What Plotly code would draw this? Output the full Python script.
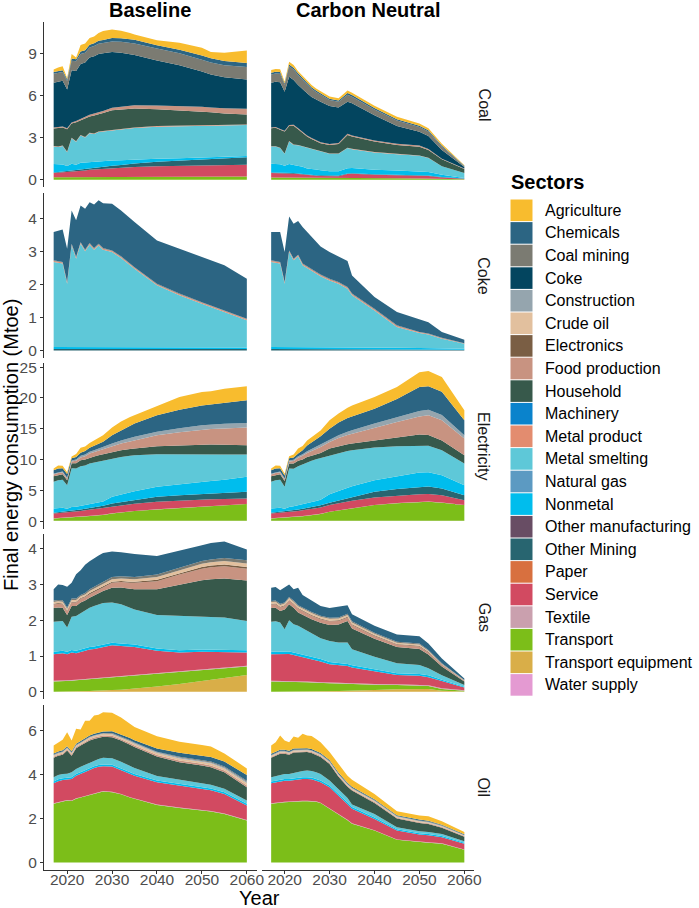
import plotly.graph_objects as go
from plotly.subplots import make_subplots

# years (denser where the curves are jagged)
YEARS = [2017, 2018, 2019, 2020, 2021, 2022, 2023, 2024, 2025, 2026, 2027,
         2028, 2030, 2032, 2034, 2035, 2040, 2045, 2050, 2052, 2055, 2060]

# legend order = stacking order, first one on top
SECTORS = ["Agriculture", "Chemicals", "Coal mining", "Coke", "Construction",
           "Crude oil", "Electronics", "Food production", "Household",
           "Machinery", "Metal product", "Metal smelting", "Natural gas",
           "Nonmetal", "Other manufacturing", "Other Mining", "Paper",
           "Service", "Textile", "Transport", "Transport equipment",
           "Water supply"]

COLORS = {
    "Agriculture": "#F8BC2E", "Chemicals": "#2C6583", "Coal mining": "#7B7B72",
    "Coke": "#03455F", "Construction": "#95A5AE", "Crude oil": "#E2C09E",
    "Electronics": "#7A5E44", "Food production": "#C89381",
    "Household": "#37594B", "Machinery": "#0A83CC", "Metal product": "#E38C6F",
    "Metal smelting": "#5EC8D8", "Natural gas": "#5C9AC2", "Nonmetal": "#00BDED",
    "Other manufacturing": "#684D64", "Other Mining": "#286570",
    "Paper": "#D8703F", "Service": "#D24A61", "Textile": "#CAA0AE",
    "Transport": "#7CBE19", "Transport equipment": "#D9AE48",
    "Water supply": "#E49AD2",
}

FUELS = ["Coal", "Coke", "Electricity", "Gas", "Oil"]
SCENARIOS = ["Baseline", "Carbon Neutral"]
X_TICKS = [2020, 2030, 2040, 2050, 2060]
Y_TICKS = {"Coal": [0, 3, 6, 9], "Coke": [0, 1, 2, 3, 4],
           "Electricity": [0, 5, 10, 15, 20, 25], "Gas": [0, 1, 2, 3, 4],
           "Oil": [0, 2, 4, 6]}

# Mtoe by sector
coal_baseline = {
    "Transport": [0.18, 0.18, 0.18, 0.18, 0.19, 0.19, 0.19, 0.19, 0.20, 0.20, 0.20, 0.20, 0.20, 0.20, 0.21, 0.21, 0.21, 0.21, 0.22, 0.22, 0.22, 0.22],
    "Service": [0.29, 0.31, 0.33, 0.35, 0.38, 0.41, 0.44, 0.47, 0.50, 0.52, 0.55, 0.58, 0.63, 0.65, 0.68, 0.69, 0.74, 0.76, 0.78, 0.79, 0.80, 0.84],
    "Other Mining": [0.05, 0.05, 0.06, 0.07, 0.08, 0.09, 0.10, 0.11, 0.12, 0.13, 0.14, 0.15, 0.17, 0.20, 0.23, 0.25, 0.32, 0.38, 0.45, 0.47, 0.50, 0.54],
    "Nonmetal": [0.60, 0.57, 0.52, 0.38, 0.48, 0.38, 0.48, 0.45, 0.43, 0.42, 0.41, 0.40, 0.37, 0.34, 0.31, 0.30, 0.23, 0.18, 0.14, 0.12, 0.10, 0.08],
    "Metal smelting": [1.24, 1.22, 1.31, 0.97, 1.82, 1.63, 1.94, 1.78, 2.05, 1.98, 2.10, 2.09, 2.13, 2.19, 2.22, 2.23, 2.28, 2.27, 2.23, 2.23, 2.23, 2.22],
    "Metal product": [0.04, 0.04, 0.04, 0.04, 0.04, 0.04, 0.04, 0.04, 0.04, 0.04, 0.04, 0.04, 0.04, 0.04, 0.04, 0.04, 0.04, 0.04, 0.04, 0.04, 0.04, 0.04],
    "Household": [1.25, 1.33, 1.28, 1.61, 1.01, 1.36, 1.06, 1.31, 1.16, 1.29, 1.21, 1.29, 1.41, 1.40, 1.37, 1.36, 1.20, 1.11, 1.01, 0.93, 0.83, 0.71],
    "Food production": [0.06, 0.06, 0.07, 0.07, 0.08, 0.09, 0.10, 0.11, 0.12, 0.13, 0.14, 0.15, 0.17, 0.19, 0.21, 0.22, 0.26, 0.30, 0.33, 0.35, 0.37, 0.40],
    "Coke": [3.19, 3.21, 3.26, 2.76, 3.72, 3.56, 3.90, 3.89, 4.08, 4.09, 4.16, 4.10, 3.98, 3.84, 3.68, 3.58, 3.22, 2.90, 2.50, 2.35, 2.21, 2.09],
    "Coal mining": [0.65, 0.62, 0.62, 0.60, 0.68, 0.68, 0.70, 0.70, 0.72, 0.72, 0.73, 0.74, 0.75, 0.78, 0.80, 0.82, 0.84, 0.85, 0.85, 0.85, 0.86, 0.88],
    "Chemicals": [0.12, 0.12, 0.12, 0.12, 0.15, 0.15, 0.18, 0.18, 0.20, 0.20, 0.22, 0.22, 0.25, 0.25, 0.26, 0.27, 0.23, 0.25, 0.30, 0.30, 0.30, 0.30],
    "Agriculture": [0.18, 0.29, 0.29, 0.10, 0.32, 0.12, 0.47, 0.47, 0.48, 0.48, 0.55, 0.64, 0.60, 0.54, 0.44, 0.38, 0.36, 0.50, 0.55, 0.45, 0.59, 0.88],
}

coal_neutral = {
    "Transport": [0.15, 0.15, 0.15, 0.14, 0.14, 0.14, 0.13, 0.13, 0.13, 0.12, 0.12, 0.12, 0.11, 0.11, 0.11, 0.11, 0.10, 0.10, 0.09, 0.08, 0.07, 0.03],
    "Service": [0.32, 0.32, 0.31, 0.30, 0.31, 0.29, 0.27, 0.23, 0.20, 0.18, 0.16, 0.15, 0.13, 0.14, 0.29, 0.31, 0.25, 0.22, 0.19, 0.18, 0.09, 0.04],
    "Other Mining": [0.04, 0.04, 0.04, 0.04, 0.04, 0.04, 0.04, 0.04, 0.04, 0.04, 0.04, 0.04, 0.04, 0.04, 0.04, 0.04, 0.04, 0.04, 0.04, 0.04, 0.03, 0.01],
    "Nonmetal": [0.62, 0.61, 0.60, 0.52, 0.63, 0.58, 0.56, 0.52, 0.43, 0.44, 0.40, 0.37, 0.32, 0.31, 0.38, 0.37, 0.31, 0.29, 0.28, 0.25, 0.16, 0.04],
    "Metal smelting": [1.23, 1.24, 1.15, 0.84, 1.60, 1.43, 1.45, 1.44, 1.45, 1.37, 1.35, 1.32, 1.24, 1.24, 1.43, 1.34, 1.24, 1.17, 1.10, 0.99, 0.60, 0.35],
    "Metal product": [0.03, 0.03, 0.03, 0.03, 0.03, 0.03, 0.03, 0.03, 0.03, 0.03, 0.03, 0.03, 0.03, 0.03, 0.03, 0.03, 0.03, 0.03, 0.02, 0.02, 0.01, 0.01],
    "Household": [1.27, 1.31, 1.27, 1.56, 1.08, 1.34, 1.12, 0.91, 0.79, 0.72, 0.65, 0.57, 0.61, 0.68, 0.91, 0.87, 0.75, 0.63, 0.63, 0.56, 0.49, 0.28],
    "Food production": [0.06, 0.06, 0.06, 0.06, 0.07, 0.07, 0.07, 0.07, 0.07, 0.07, 0.07, 0.07, 0.07, 0.07, 0.08, 0.08, 0.08, 0.08, 0.08, 0.07, 0.05, 0.03],
    "Coke": [3.18, 3.21, 3.34, 2.77, 3.43, 3.18, 3.07, 3.06, 3.01, 2.93, 2.90, 2.89, 2.70, 2.53, 2.29, 2.29, 1.80, 1.27, 0.99, 0.92, 0.61, 0.11],
    "Coal mining": [0.60, 0.60, 0.60, 0.50, 0.75, 0.75, 0.72, 0.68, 0.62, 0.58, 0.52, 0.48, 0.42, 0.40, 0.50, 0.47, 0.40, 0.38, 0.33, 0.32, 0.25, 0.06],
    "Chemicals": [0.12, 0.12, 0.12, 0.10, 0.12, 0.12, 0.12, 0.12, 0.12, 0.11, 0.11, 0.11, 0.10, 0.10, 0.12, 0.12, 0.10, 0.10, 0.09, 0.09, 0.08, 0.03],
    "Agriculture": [0.20, 0.20, 0.20, 0.12, 0.20, 0.20, 0.15, 0.15, 0.15, 0.15, 0.15, 0.15, 0.15, 0.15, 0.18, 0.17, 0.17, 0.17, 0.16, 0.15, 0.12, 0.04],
}

coke_baseline = {
    "Other Mining": [0.04, 0.04, 0.04, 0.04, 0.04, 0.04, 0.04, 0.04, 0.04, 0.04, 0.04, 0.04, 0.04, 0.04, 0.04, 0.04, 0.04, 0.04, 0.04, 0.04, 0.04, 0.04],
    "Nonmetal": [0.06, 0.06, 0.06, 0.06, 0.07, 0.07, 0.07, 0.07, 0.07, 0.07, 0.07, 0.07, 0.07, 0.07, 0.06, 0.06, 0.06, 0.06, 0.05, 0.05, 0.05, 0.05],
    "Metal smelting": [2.58, 2.56, 2.53, 1.92, 3.07, 2.67, 3.12, 2.89, 3.09, 2.94, 3.07, 2.94, 2.87, 2.69, 2.48, 2.37, 1.87, 1.57, 1.32, 1.22, 1.09, 0.82],
    "Metal product": [0.03, 0.03, 0.03, 0.03, 0.03, 0.03, 0.03, 0.03, 0.03, 0.03, 0.03, 0.03, 0.03, 0.03, 0.03, 0.03, 0.03, 0.03, 0.03, 0.03, 0.03, 0.03],
    "Coal mining": [0.02, 0.02, 0.02, 0.02, 0.02, 0.02, 0.02, 0.02, 0.02, 0.02, 0.02, 0.02, 0.02, 0.02, 0.02, 0.02, 0.02, 0.02, 0.02, 0.02, 0.02, 0.02],
    "Chemicals": [0.86, 0.91, 0.98, 1.01, 1.01, 1.11, 1.11, 1.24, 1.24, 1.32, 1.32, 1.36, 1.41, 1.39, 1.39, 1.37, 1.31, 1.36, 1.37, 1.37, 1.35, 1.21],
}

coke_neutral = {
    "Other Mining": [0.04, 0.04, 0.04, 0.04, 0.04, 0.04, 0.04, 0.04, 0.04, 0.04, 0.04, 0.04, 0.04, 0.04, 0.04, 0.04, 0.04, 0.03, 0.03, 0.03, 0.03, 0.02],
    "Nonmetal": [0.06, 0.06, 0.06, 0.06, 0.06, 0.06, 0.06, 0.06, 0.06, 0.06, 0.06, 0.06, 0.06, 0.06, 0.06, 0.06, 0.05, 0.05, 0.04, 0.04, 0.03, 0.03],
    "Metal smelting": [2.58, 2.56, 2.53, 1.92, 2.88, 2.63, 2.75, 2.48, 2.40, 2.32, 2.24, 2.15, 2.02, 1.92, 1.77, 1.57, 1.12, 0.63, 0.46, 0.41, 0.29, 0.15],
    "Metal product": [0.03, 0.03, 0.03, 0.03, 0.03, 0.03, 0.03, 0.03, 0.03, 0.03, 0.03, 0.03, 0.03, 0.03, 0.03, 0.03, 0.03, 0.03, 0.02, 0.02, 0.02, 0.01],
    "Coal mining": [0.02, 0.02, 0.02, 0.02, 0.02, 0.02, 0.02, 0.02, 0.02, 0.02, 0.02, 0.02, 0.02, 0.02, 0.02, 0.02, 0.02, 0.02, 0.01, 0.01, 0.01, 0.01],
    "Chemicals": [0.86, 0.88, 0.91, 0.91, 1.03, 1.06, 1.02, 1.11, 1.04, 0.96, 0.90, 0.85, 0.81, 0.78, 0.79, 0.55, 0.36, 0.40, 0.39, 0.34, 0.18, 0.10],
}

electricity_baseline = {
    "Water supply": [0.05, 0.05, 0.05, 0.05, 0.05, 0.05, 0.05, 0.05, 0.05, 0.05, 0.05, 0.05, 0.05, 0.05, 0.05, 0.05, 0.05, 0.05, 0.05, 0.05, 0.05, 0.05],
    "Transport": [0.38, 0.42, 0.45, 0.50, 0.55, 0.60, 0.65, 0.70, 0.77, 0.83, 0.90, 0.95, 1.19, 1.35, 1.50, 1.57, 1.85, 2.07, 2.25, 2.35, 2.50, 2.71],
    "Textile": [0.03, 0.03, 0.03, 0.03, 0.03, 0.03, 0.03, 0.03, 0.03, 0.03, 0.03, 0.03, 0.03, 0.03, 0.03, 0.03, 0.03, 0.03, 0.03, 0.03, 0.03, 0.03],
    "Service": [0.78, 0.80, 0.82, 0.80, 0.82, 0.87, 0.92, 0.97, 1.00, 1.04, 1.07, 1.12, 1.16, 1.17, 1.17, 1.17, 1.21, 1.20, 1.17, 1.12, 1.02, 0.89],
    "Other Mining": [0.11, 0.12, 0.15, 0.17, 0.17, 0.20, 0.23, 0.25, 0.27, 0.30, 0.32, 0.35, 0.43, 0.50, 0.60, 0.63, 0.81, 0.85, 0.88, 0.90, 0.95, 1.08],
    "Nonmetal": [0.70, 0.68, 0.65, 0.45, 0.68, 0.60, 0.62, 0.60, 0.63, 0.65, 0.68, 0.70, 1.09, 1.20, 1.35, 1.40, 1.62, 1.80, 2.00, 2.05, 2.15, 2.43],
    "Metal smelting": [4.33, 4.55, 4.55, 3.84, 6.30, 6.19, 6.42, 6.45, 6.60, 6.60, 6.65, 6.65, 6.21, 6.10, 5.90, 5.85, 5.29, 4.88, 4.48, 4.35, 4.13, 3.62],
    "Household": [0.92, 0.85, 0.90, 0.81, 0.80, 0.86, 0.98, 0.95, 0.95, 1.00, 1.00, 1.00, 1.08, 1.10, 1.10, 1.10, 1.30, 1.42, 1.57, 1.58, 1.57, 1.51],
    "Food production": [0.27, 0.30, 0.30, 0.25, 0.30, 0.40, 0.45, 0.55, 0.67, 0.70, 0.75, 0.80, 0.92, 1.10, 1.25, 1.30, 1.79, 2.15, 2.43, 2.52, 2.65, 2.87],
    "Construction": [0.16, 0.15, 0.15, 0.15, 0.15, 0.20, 0.25, 0.25, 0.28, 0.30, 0.35, 0.35, 0.44, 0.50, 0.55, 0.60, 0.55, 0.65, 0.71, 0.75, 0.75, 0.76],
    "Chemicals": [0.54, 0.59, 0.55, 0.60, 0.35, 0.40, 0.50, 0.60, 0.65, 0.75, 0.80, 0.90, 1.35, 1.65, 1.95, 2.14, 2.69, 3.00, 3.19, 3.25, 3.40, 3.67],
    "Agriculture": [0.27, 0.50, 0.40, 0.27, 0.30, 0.50, 0.80, 0.70, 0.80, 0.85, 0.95, 1.05, 1.24, 1.45, 1.45, 1.35, 1.46, 2.06, 2.21, 2.15, 2.30, 2.28],
}

electricity_neutral = {
    "Water supply": [0.05, 0.05, 0.05, 0.05, 0.05, 0.05, 0.05, 0.05, 0.05, 0.05, 0.05, 0.05, 0.05, 0.05, 0.05, 0.05, 0.05, 0.05, 0.05, 0.05, 0.05, 0.05],
    "Transport": [0.38, 0.42, 0.45, 0.50, 0.55, 0.60, 0.67, 0.75, 0.83, 0.91, 1.00, 1.10, 1.45, 1.65, 1.85, 1.95, 2.55, 2.85, 3.05, 3.10, 2.95, 2.55],
    "Textile": [0.03, 0.03, 0.03, 0.03, 0.03, 0.03, 0.03, 0.03, 0.03, 0.03, 0.03, 0.03, 0.03, 0.03, 0.03, 0.03, 0.03, 0.03, 0.03, 0.03, 0.03, 0.03],
    "Service": [0.78, 0.80, 0.82, 0.80, 0.82, 0.87, 0.90, 0.92, 0.94, 0.99, 1.02, 1.04, 1.07, 1.17, 1.22, 1.27, 1.21, 1.22, 1.25, 1.22, 1.17, 0.77],
    "Other Mining": [0.11, 0.12, 0.15, 0.17, 0.17, 0.20, 0.23, 0.25, 0.27, 0.29, 0.32, 0.34, 0.40, 0.45, 0.50, 0.50, 0.92, 1.05, 1.19, 1.20, 1.10, 0.80],
    "Nonmetal": [0.70, 0.68, 0.65, 0.45, 0.68, 0.65, 0.67, 0.70, 0.78, 0.78, 0.83, 0.89, 1.38, 1.55, 1.75, 1.85, 1.89, 2.10, 2.33, 2.35, 2.16, 1.64],
    "Metal smelting": [4.33, 4.55, 4.55, 3.57, 6.24, 6.10, 6.35, 6.50, 6.70, 6.75, 6.80, 6.80, 6.32, 6.20, 6.00, 5.85, 5.30, 4.86, 4.40, 4.30, 4.04, 3.51],
    "Household": [0.92, 0.85, 0.90, 0.93, 0.81, 0.85, 0.90, 0.80, 0.80, 0.80, 0.80, 0.80, 1.10, 1.10, 1.10, 1.10, 1.15, 1.44, 1.75, 1.75, 1.60, 1.35],
    "Food production": [0.27, 0.30, 0.30, 0.25, 0.35, 0.40, 0.50, 0.60, 0.68, 0.80, 0.90, 1.00, 1.06, 1.30, 1.50, 1.60, 2.10, 2.50, 2.95, 3.20, 3.30, 2.70],
    "Construction": [0.16, 0.15, 0.15, 0.15, 0.15, 0.20, 0.22, 0.25, 0.28, 0.30, 0.32, 0.35, 0.38, 0.45, 0.50, 0.55, 0.64, 0.75, 0.90, 0.90, 0.85, 0.55],
    "Chemicals": [0.54, 0.59, 0.55, 0.50, 0.35, 0.40, 0.48, 0.65, 0.94, 1.10, 1.23, 1.40, 1.76, 2.05, 2.25, 2.25, 2.43, 3.00, 3.90, 3.80, 3.75, 2.45],
    "Agriculture": [0.27, 0.50, 0.40, 0.30, 0.35, 0.45, 0.80, 0.70, 0.80, 0.80, 0.90, 0.90, 1.40, 1.50, 1.65, 1.80, 1.89, 1.95, 2.40, 2.50, 2.40, 1.60],
}

gas_baseline = {
    "Transport equipment": [0.00, 0.00, 0.00, 0.00, 0.00, 0.01, 0.01, 0.02, 0.02, 0.03, 0.03, 0.04, 0.05, 0.06, 0.08, 0.09, 0.15, 0.22, 0.30, 0.34, 0.40, 0.47],
    "Transport": [0.29, 0.29, 0.30, 0.30, 0.31, 0.31, 0.32, 0.32, 0.33, 0.33, 0.34, 0.34, 0.35, 0.36, 0.36, 0.36, 0.35, 0.33, 0.30, 0.29, 0.26, 0.24],
    "Textile": [0.02, 0.02, 0.02, 0.02, 0.02, 0.02, 0.02, 0.02, 0.02, 0.02, 0.02, 0.02, 0.02, 0.02, 0.02, 0.02, 0.02, 0.02, 0.02, 0.02, 0.02, 0.02],
    "Service": [0.74, 0.76, 0.76, 0.73, 0.77, 0.74, 0.77, 0.79, 0.81, 0.82, 0.83, 0.84, 0.88, 0.84, 0.80, 0.78, 0.63, 0.53, 0.50, 0.47, 0.44, 0.37],
    "Nonmetal": [0.07, 0.07, 0.07, 0.07, 0.07, 0.07, 0.07, 0.07, 0.07, 0.07, 0.07, 0.07, 0.07, 0.07, 0.07, 0.07, 0.06, 0.06, 0.06, 0.06, 0.06, 0.06],
    "Metal smelting": [0.84, 0.84, 0.83, 0.68, 0.93, 0.97, 1.01, 1.06, 1.10, 1.13, 1.16, 1.17, 1.13, 1.10, 1.02, 0.98, 0.94, 0.97, 0.94, 0.92, 0.90, 0.82],
    "Household": [0.38, 0.38, 0.37, 0.35, 0.30, 0.28, 0.30, 0.27, 0.28, 0.30, 0.32, 0.34, 0.41, 0.47, 0.53, 0.57, 0.72, 0.87, 1.00, 1.05, 1.09, 1.13],
    "Food production": [0.10, 0.10, 0.10, 0.10, 0.10, 0.10, 0.10, 0.10, 0.10, 0.10, 0.10, 0.10, 0.14, 0.15, 0.17, 0.18, 0.22, 0.28, 0.32, 0.33, 0.34, 0.33],
    "Electronics": [0.02, 0.02, 0.02, 0.02, 0.02, 0.02, 0.02, 0.02, 0.03, 0.03, 0.03, 0.03, 0.03, 0.03, 0.03, 0.03, 0.04, 0.04, 0.05, 0.05, 0.05, 0.05],
    "Crude oil": [0.05, 0.05, 0.05, 0.05, 0.05, 0.05, 0.05, 0.05, 0.06, 0.06, 0.06, 0.06, 0.07, 0.07, 0.07, 0.07, 0.08, 0.08, 0.09, 0.09, 0.10, 0.10],
    "Coal mining": [0.04, 0.04, 0.04, 0.04, 0.04, 0.04, 0.04, 0.04, 0.05, 0.05, 0.05, 0.05, 0.06, 0.06, 0.06, 0.06, 0.07, 0.07, 0.08, 0.08, 0.08, 0.09],
    "Chemicals": [0.32, 0.43, 0.43, 0.58, 0.44, 0.68, 0.69, 0.79, 0.78, 0.80, 0.80, 0.82, 0.71, 0.67, 0.66, 0.64, 0.52, 0.47, 0.44, 0.46, 0.46, 0.30],
}

gas_neutral = {
    "Transport equipment": [0.00, 0.00, 0.00, 0.00, 0.00, 0.00, 0.00, 0.00, 0.00, 0.01, 0.01, 0.01, 0.02, 0.02, 0.03, 0.03, 0.05, 0.07, 0.09, 0.08, 0.03, 0.01],
    "Transport": [0.29, 0.29, 0.29, 0.28, 0.28, 0.28, 0.27, 0.27, 0.27, 0.25, 0.25, 0.24, 0.22, 0.21, 0.19, 0.19, 0.15, 0.12, 0.09, 0.08, 0.05, 0.02],
    "Textile": [0.02, 0.02, 0.02, 0.02, 0.02, 0.02, 0.02, 0.02, 0.02, 0.02, 0.02, 0.02, 0.02, 0.02, 0.02, 0.02, 0.02, 0.02, 0.02, 0.02, 0.02, 0.01],
    "Service": [0.74, 0.74, 0.73, 0.75, 0.76, 0.73, 0.71, 0.69, 0.67, 0.65, 0.61, 0.58, 0.51, 0.49, 0.48, 0.44, 0.36, 0.26, 0.25, 0.23, 0.20, 0.08],
    "Nonmetal": [0.07, 0.07, 0.07, 0.07, 0.07, 0.07, 0.07, 0.07, 0.07, 0.07, 0.07, 0.07, 0.06, 0.06, 0.06, 0.06, 0.05, 0.05, 0.05, 0.05, 0.04, 0.02],
    "Metal smelting": [0.84, 0.85, 0.83, 0.63, 0.87, 0.79, 0.78, 0.73, 0.67, 0.64, 0.61, 0.58, 0.59, 0.58, 0.60, 0.45, 0.35, 0.28, 0.25, 0.20, 0.12, 0.05],
    "Household": [0.38, 0.38, 0.32, 0.55, 0.45, 0.46, 0.37, 0.37, 0.38, 0.39, 0.41, 0.43, 0.45, 0.50, 0.60, 0.58, 0.50, 0.45, 0.45, 0.38, 0.25, 0.10],
    "Food production": [0.10, 0.10, 0.10, 0.10, 0.10, 0.10, 0.10, 0.10, 0.10, 0.10, 0.10, 0.10, 0.10, 0.10, 0.10, 0.10, 0.08, 0.07, 0.07, 0.06, 0.04, 0.01],
    "Electronics": [0.02, 0.02, 0.02, 0.02, 0.02, 0.02, 0.02, 0.02, 0.02, 0.02, 0.02, 0.02, 0.02, 0.02, 0.02, 0.02, 0.02, 0.02, 0.02, 0.02, 0.01, 0.01],
    "Crude oil": [0.05, 0.05, 0.05, 0.05, 0.05, 0.05, 0.05, 0.05, 0.05, 0.05, 0.05, 0.05, 0.05, 0.05, 0.05, 0.05, 0.04, 0.03, 0.03, 0.03, 0.02, 0.01],
    "Coal mining": [0.03, 0.03, 0.03, 0.03, 0.03, 0.03, 0.03, 0.03, 0.03, 0.03, 0.03, 0.03, 0.03, 0.03, 0.03, 0.03, 0.03, 0.03, 0.03, 0.02, 0.02, 0.01],
    "Chemicals": [0.37, 0.38, 0.38, 0.41, 0.35, 0.32, 0.49, 0.36, 0.35, 0.32, 0.29, 0.27, 0.27, 0.30, 0.24, 0.20, 0.20, 0.20, 0.20, 0.18, 0.13, 0.04],
}

oil_baseline = {
    "Transport": [2.67, 2.72, 2.76, 2.82, 2.80, 2.90, 2.95, 3.00, 3.05, 3.12, 3.18, 3.23, 3.20, 3.10, 2.95, 2.89, 2.62, 2.48, 2.36, 2.32, 2.21, 1.91],
    "Textile": [0.02, 0.02, 0.02, 0.02, 0.02, 0.02, 0.02, 0.02, 0.02, 0.02, 0.02, 0.02, 0.02, 0.02, 0.02, 0.02, 0.02, 0.02, 0.02, 0.02, 0.02, 0.02],
    "Service": [0.91, 0.96, 0.97, 0.92, 0.98, 1.03, 1.08, 1.10, 1.14, 1.16, 1.15, 1.13, 1.14, 1.08, 1.05, 1.04, 1.01, 1.00, 0.97, 0.94, 0.89, 0.66],
    "Nonmetal": [0.08, 0.08, 0.08, 0.08, 0.08, 0.08, 0.08, 0.08, 0.08, 0.08, 0.08, 0.08, 0.08, 0.08, 0.08, 0.08, 0.08, 0.08, 0.08, 0.08, 0.08, 0.08],
    "Metal smelting": [0.20, 0.20, 0.20, 0.20, 0.22, 0.22, 0.22, 0.24, 0.25, 0.26, 0.28, 0.30, 0.30, 0.30, 0.28, 0.27, 0.20, 0.18, 0.18, 0.17, 0.15, 0.15],
    "Household": [0.88, 0.87, 0.87, 1.05, 0.76, 0.95, 0.97, 1.01, 1.01, 0.98, 0.97, 0.96, 0.96, 0.97, 0.97, 0.95, 0.89, 0.80, 0.80, 0.80, 0.75, 0.60],
    "Food production": [0.05, 0.05, 0.05, 0.05, 0.05, 0.05, 0.05, 0.05, 0.06, 0.06, 0.06, 0.06, 0.06, 0.06, 0.07, 0.07, 0.07, 0.08, 0.08, 0.08, 0.08, 0.08],
    "Crude oil": [0.06, 0.06, 0.06, 0.06, 0.06, 0.06, 0.06, 0.06, 0.07, 0.07, 0.07, 0.07, 0.07, 0.07, 0.08, 0.08, 0.09, 0.09, 0.10, 0.10, 0.10, 0.12],
    "Construction": [0.02, 0.02, 0.02, 0.02, 0.02, 0.02, 0.02, 0.02, 0.02, 0.02, 0.02, 0.02, 0.03, 0.03, 0.03, 0.03, 0.03, 0.04, 0.04, 0.04, 0.04, 0.05],
    "Coal mining": [0.02, 0.02, 0.02, 0.02, 0.02, 0.02, 0.02, 0.02, 0.02, 0.02, 0.02, 0.02, 0.03, 0.03, 0.03, 0.03, 0.03, 0.04, 0.04, 0.04, 0.04, 0.05],
    "Chemicals": [0.05, 0.05, 0.05, 0.05, 0.05, 0.05, 0.06, 0.06, 0.06, 0.06, 0.07, 0.07, 0.08, 0.09, 0.10, 0.10, 0.14, 0.18, 0.20, 0.21, 0.23, 0.26],
    "Agriculture": [0.36, 0.42, 0.48, 0.63, 0.49, 0.68, 0.52, 0.79, 0.67, 0.83, 0.80, 0.87, 0.84, 0.76, 0.65, 0.60, 0.56, 0.50, 0.47, 0.47, 0.37, 0.30],
}

oil_neutral = {
    "Transport": [2.67, 2.70, 2.72, 2.74, 2.75, 2.77, 2.78, 2.79, 2.79, 2.78, 2.76, 2.70, 2.44, 2.20, 1.92, 1.76, 1.45, 1.03, 0.92, 0.90, 0.85, 0.58],
    "Textile": [0.02, 0.02, 0.02, 0.02, 0.02, 0.02, 0.02, 0.02, 0.02, 0.02, 0.02, 0.02, 0.02, 0.02, 0.02, 0.02, 0.02, 0.02, 0.02, 0.02, 0.02, 0.01],
    "Service": [0.91, 0.93, 0.96, 0.96, 0.95, 0.96, 0.98, 0.99, 0.99, 0.98, 0.94, 0.93, 0.96, 0.83, 0.71, 0.66, 0.51, 0.40, 0.33, 0.32, 0.28, 0.26],
    "Nonmetal": [0.08, 0.08, 0.08, 0.08, 0.08, 0.08, 0.08, 0.08, 0.08, 0.08, 0.08, 0.08, 0.08, 0.08, 0.08, 0.08, 0.07, 0.06, 0.06, 0.06, 0.05, 0.05],
    "Metal smelting": [0.20, 0.20, 0.20, 0.22, 0.22, 0.24, 0.25, 0.28, 0.30, 0.30, 0.30, 0.30, 0.23, 0.22, 0.20, 0.12, 0.16, 0.09, 0.09, 0.09, 0.10, 0.07],
    "Household": [0.88, 0.92, 0.97, 0.93, 0.88, 0.93, 0.89, 0.86, 0.84, 0.82, 0.80, 0.77, 0.75, 0.55, 0.52, 0.63, 0.50, 0.40, 0.38, 0.36, 0.28, 0.20],
    "Food production": [0.04, 0.04, 0.04, 0.04, 0.04, 0.04, 0.04, 0.04, 0.04, 0.04, 0.04, 0.04, 0.04, 0.04, 0.04, 0.04, 0.04, 0.04, 0.03, 0.03, 0.03, 0.03],
    "Crude oil": [0.05, 0.05, 0.05, 0.05, 0.05, 0.05, 0.05, 0.05, 0.05, 0.05, 0.05, 0.05, 0.05, 0.05, 0.05, 0.05, 0.05, 0.04, 0.04, 0.04, 0.04, 0.03],
    "Construction": [0.02, 0.02, 0.02, 0.02, 0.02, 0.02, 0.02, 0.02, 0.02, 0.02, 0.02, 0.02, 0.02, 0.02, 0.02, 0.02, 0.02, 0.02, 0.02, 0.02, 0.02, 0.01],
    "Coal mining": [0.02, 0.02, 0.02, 0.02, 0.02, 0.02, 0.02, 0.02, 0.02, 0.02, 0.02, 0.02, 0.02, 0.02, 0.02, 0.02, 0.02, 0.02, 0.02, 0.02, 0.02, 0.01],
    "Chemicals": [0.05, 0.05, 0.05, 0.05, 0.05, 0.05, 0.05, 0.05, 0.05, 0.05, 0.05, 0.05, 0.05, 0.05, 0.05, 0.05, 0.04, 0.03, 0.04, 0.04, 0.03, 0.04],
    "Agriculture": [0.38, 0.44, 0.64, 0.42, 0.39, 0.55, 0.49, 0.65, 0.57, 0.59, 0.54, 0.49, 0.36, 0.40, 0.32, 0.31, 0.24, 0.18, 0.19, 0.20, 0.15, 0.10],
}

PANELS = {
    ("Coal", "Baseline"): coal_baseline, ("Coal", "Carbon Neutral"): coal_neutral,
    ("Coke", "Baseline"): coke_baseline, ("Coke", "Carbon Neutral"): coke_neutral,
    ("Electricity", "Baseline"): electricity_baseline,
    ("Electricity", "Carbon Neutral"): electricity_neutral,
    ("Gas", "Baseline"): gas_baseline, ("Gas", "Carbon Neutral"): gas_neutral,
    ("Oil", "Baseline"): oil_baseline, ("Oil", "Carbon Neutral"): oil_neutral,
}

FONT = "Liberation Sans, Arial, sans-serif"
W, H = 699, 908
L, R, T, B = 44, 225, 22, 38
PW, PH = W - L - R, H - T - B


def px(x):
    return (x - L) / PW


def py(y):
    return 1 - (y - T) / PH


def label(text, x, y, size, angle=0, xanchor="center", color="#000000"):
    return dict(text=text, x=px(x), y=py(y), xref="paper", yref="paper",
                xanchor=xanchor, yanchor="middle", textangle=angle,
                showarrow=False, font=dict(family=FONT, size=size, color=color))


fig = make_subplots(rows=5, cols=2, horizontal_spacing=5 / PW,
                    vertical_spacing=5.5 / PH)

xpad = 0.05 * (YEARS[-1] - YEARS[0])
for r, fuel in enumerate(FUELS, start=1):
    top = 0
    for c, scen in enumerate(SCENARIOS, start=1):
        panel = PANELS[(fuel, scen)]
        totals = [sum(v[i] for v in panel.values()) for i in range(len(YEARS))]
        top = max(top, max(totals))
        for sector in reversed(SECTORS):
            if sector not in panel:
                continue
            fig.add_trace(go.Scatter(
                x=YEARS, y=panel[sector], name=sector, mode="lines",
                stackgroup=f"{fuel}_{c}", line=dict(width=0, color=COLORS[sector]),
                fillcolor=COLORS[sector], showlegend=False,
                hovertemplate=sector + ": %{y:.2f}<extra></extra>"),
                row=r, col=c)
        last = r == 5
        fig.update_xaxes(range=[YEARS[0] - xpad, YEARS[-1] + xpad],
                         tickvals=X_TICKS, showgrid=False, zeroline=False,
                         showline=last, linecolor="#333333", linewidth=1.2,
                         ticks="outside" if last else "", ticklen=3,
                         tickcolor="#333333", showticklabels=last,
                         ticklabelstandoff=-8,
                         tickfont=dict(family=FONT, size=15.5, color="#4D4D4D"),
                         automargin=False, row=r, col=c)
        left = c == 1
        fig.update_yaxes(tickvals=Y_TICKS[fuel],
                         showgrid=False, zeroline=False, showline=left,
                         linecolor="#333333", linewidth=1.2,
                         ticks="outside" if left else "", ticklen=3,
                         tickcolor="#333333", showticklabels=left,
                         tickfont=dict(family=FONT, size=15.5, color="#4D4D4D"),
                         automargin=False, row=r, col=c)
    # both scenarios of a fuel share one y scale
    fig.update_yaxes(range=[-0.05 * top, top * 1.05], row=r)

ann = []
for c, scen in enumerate(SCENARIOS, start=1):
    dom = fig.layout["xaxis" if c == 1 else "xaxis2"].domain
    ann.append(label("<b>" + scen + "</b>", L + PW * (dom[0] + dom[1]) / 2, 10, 20))

for r, fuel in enumerate(FUELS, start=1):
    n = 2 * (r - 1) + 1
    dom = fig.layout["yaxis" if n == 1 else f"yaxis{n}"].domain
    ann.append(label(fuel, 484, T + PH * (1 - (dom[0] + dom[1]) / 2), 16,
                     angle=90, color="#1A1A1A"))

ann.append(label("Year", 259, 898.5, 20))
ann.append(label("Final energy consumption (Mtoe)", 11, 445, 20, angle=-90))

# legend drawn by hand: big square keys like ggplot
ann.append(label("<b>Sectors</b>", 509, 182, 20, xanchor="left"))
shapes = []
for i, sector in enumerate(SECTORS):
    y0 = 199.5 + 22.6 * i
    shapes.append(dict(type="rect", xref="paper", yref="paper",
                       x0=px(510.5), x1=px(532.5), y0=py(y0), y1=py(y0 + 21.6),
                       fillcolor=COLORS[sector], line=dict(width=0)))
    ann.append(label(sector, 543, y0 + 10.8, 16, xanchor="left"))

fig.update_layout(width=W, height=H, margin=dict(l=L, r=R, t=T, b=B),
                  paper_bgcolor="white", plot_bgcolor="white",
                  annotations=ann, shapes=shapes, showlegend=False,
                  font=dict(family=FONT))

# the page's default 8px body margin would push the figure off its place
fig.write_html("out.html", config={"displayModeBar": False},
               post_script="document.body.style.margin='0px';")
